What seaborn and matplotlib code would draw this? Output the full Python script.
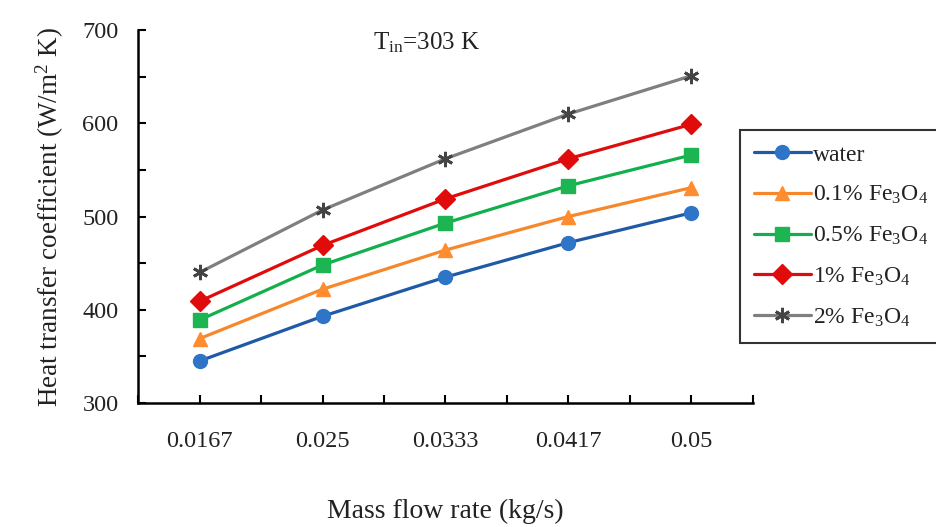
import pandas as pd
import matplotlib
matplotlib.use("Agg")
import matplotlib.pyplot as plt
import seaborn as sns
from matplotlib.ticker import MultipleLocator

# values
flow_labels = ["0.0167", "0.025", "0.0333", "0.0417", "0.05"]
water = [345, 393, 435, 472, 504]
fe_01 = [369, 422, 464, 500, 531]
fe_05 = [389, 448, 493, 533, 566]
fe_1 = [409, 469, 519, 562, 599]
fe_2 = [440, 507, 562, 610, 651]

series_names = ["water", "0.1% Fe$_3$O$_4$", "0.5% Fe$_3$O$_4$",
                "1% Fe$_3$O$_4$", "2% Fe$_3$O$_4$"]
series_vals = [water, fe_01, fe_05, fe_1, fe_2]
colors = ["#1F5AA6", "#F7872B", "#12B04C", "#E00B0B", "#7F7F7F"]
marker_fc = ["#2E75C8", "#FF8C2E", "#1DB552", "#E00B0B", "#444444"]
markers = ["o", "^", "s", "D", (6, 2, 0)]
msizes = [10, 10, 10, 10, 11]

sns.set_style("white")
plt.rcParams["font.family"] = ["Liberation Serif", "DejaVu Serif"]
plt.rcParams["mathtext.fontset"] = "custom"
plt.rcParams["mathtext.rm"] = "Liberation Serif"
plt.rcParams["mathtext.it"] = "Liberation Serif:italic"

fig = plt.figure(figsize=(9.37, 5.27), dpi=100)
ax = fig.add_axes([0.1473, 0.2353, 0.6563, 0.7077])

for name, vals, c, fc, m, ms in zip(series_names, series_vals, colors,
                                     marker_fc, markers, msizes):
    d = pd.DataFrame({"pos": range(len(vals)), "h": vals})
    sns.lineplot(data=d, x="pos", y="h", color=c, marker=m, markersize=ms,
                 markerfacecolor=fc, markeredgecolor=fc,
                 markeredgewidth=2.0 if m == (6, 2, 0) else 1.0,
                 linewidth=2.3, ax=ax, label=name, legend=False)

ax.set_xlim(-0.5, 4.5)
ax.set_ylim(300, 700)
ax.set_xticks(range(len(flow_labels)))
ax.set_xticklabels(flow_labels)
ax.xaxis.set_minor_locator(MultipleLocator(0.5))
ax.yaxis.set_major_locator(MultipleLocator(100))
ax.yaxis.set_minor_locator(MultipleLocator(50))
ax.tick_params(axis="both", which="both", direction="in", length=6,
               width=1.5, color="black", labelsize=17.5, labelcolor="#222222",
               bottom=True, left=True)
ax.tick_params(axis="x", which="major", pad=20)
ax.tick_params(axis="y", which="major", pad=14)

for side in ["top", "right"]:
    ax.spines[side].set_visible(False)
for side in ["left", "bottom"]:
    ax.spines[side].set_linewidth(1.8)
    ax.spines[side].set_color("black")

ax.set_xlabel("Mass flow rate (kg/s)", fontsize=20, color="#222222", labelpad=34)
ax.set_ylabel("Heat transfer coefficient (W/m$^2$ K)", fontsize=19.5,
              color="#222222", labelpad=12)
ax.text(0.47, 0.965, "T$_{\\mathrm{in}}$=303 K", transform=ax.transAxes,
        fontsize=18, ha="center", va="center", color="#222222")

handles = ax.get_lines()[:5]
leg = fig.legend(handles, series_names, loc="upper left",
                 bbox_to_anchor=(740 / 937, 1 - 130 / 527),
                 fontsize=17, frameon=True, fancybox=False,
                 edgecolor="black", handlelength=2.4, handletextpad=0.1,
                 labelspacing=0.78, borderpad=0.6, borderaxespad=0)
leg.get_frame().set_linewidth(1.5)
for t in leg.get_texts():
    t.set_color("#222222")

fig.savefig("out.png", dpi=100)
